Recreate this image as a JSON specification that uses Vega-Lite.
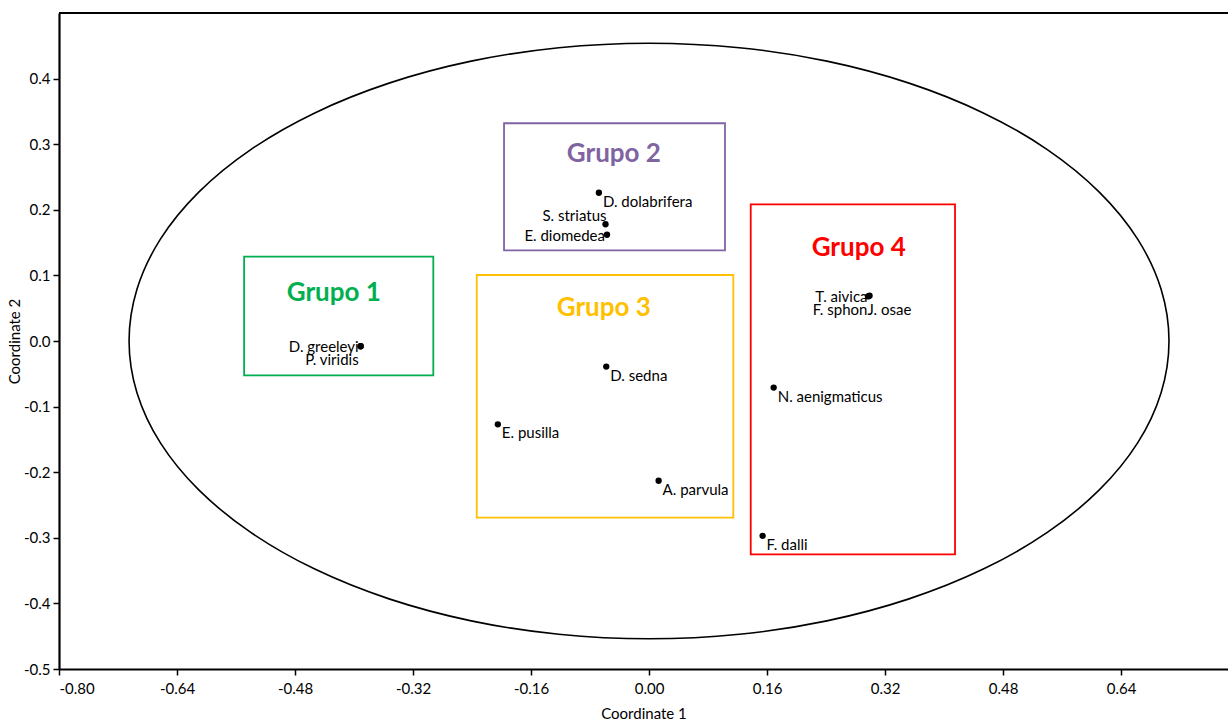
{
  "$schema": "https://vega.github.io/schema/vega-lite/v6.json",
  "width": 1169,
  "height": 656,
  "autosize": {"type": "none"},
  "padding": {"left": 59, "top": 13, "right": 0, "bottom": 52},
  "background": "white",
  "config": {
    "view": {"stroke": null},
    "font": "Lato",
    "axis": {
      "domainColor": "black", "domainWidth": 2.2, "tickColor": "black", "tickWidth": 1.5, "tickSize": 6,
      "labelColor": "black", "labelFontSize": 15, "labelFont": "Lato",
      "titleColor": "black", "titleFontSize": 15, "titleFontWeight": "normal", "titleFont": "Lato",
      "grid": false
    },
    "text": {"font": "Lato", "fontSize": 15, "color": "black", "baseline": "middle"}
  },
  "datasets": {
    "ellipse": [
      {"i": 0, "x": 0.705, "y": 0},
      {"i": 1, "x": 0.6943, "y": 0.0788},
      {"i": 2, "x": 0.6625, "y": 0.1553},
      {"i": 3, "x": 0.6105, "y": 0.227},
      {"i": 4, "x": 0.54, "y": 0.2918},
      {"i": 5, "x": 0.4532, "y": 0.3477},
      {"i": 6, "x": 0.3525, "y": 0.3931},
      {"i": 7, "x": 0.2411, "y": 0.4266},
      {"i": 8, "x": 0.1224, "y": 0.4471},
      {"i": 9, "x": 0, "y": 0.454},
      {"i": 10, "x": -0.1224, "y": 0.4471},
      {"i": 11, "x": -0.2411, "y": 0.4266},
      {"i": 12, "x": -0.3525, "y": 0.3931},
      {"i": 13, "x": -0.4532, "y": 0.3477},
      {"i": 14, "x": -0.54, "y": 0.2918},
      {"i": 15, "x": -0.6105, "y": 0.227},
      {"i": 16, "x": -0.6625, "y": 0.1553},
      {"i": 17, "x": -0.6943, "y": 0.0788},
      {"i": 18, "x": -0.705, "y": 0},
      {"i": 19, "x": -0.6943, "y": -0.0788},
      {"i": 20, "x": -0.6625, "y": -0.1553},
      {"i": 21, "x": -0.6105, "y": -0.227},
      {"i": 22, "x": -0.54, "y": -0.2918},
      {"i": 23, "x": -0.4532, "y": -0.3477},
      {"i": 24, "x": -0.3525, "y": -0.3931},
      {"i": 25, "x": -0.2411, "y": -0.4266},
      {"i": 26, "x": -0.1224, "y": -0.4471},
      {"i": 27, "x": 0, "y": -0.454},
      {"i": 28, "x": 0.1224, "y": -0.4471},
      {"i": 29, "x": 0.2411, "y": -0.4266},
      {"i": 30, "x": 0.3525, "y": -0.3931},
      {"i": 31, "x": 0.4532, "y": -0.3477},
      {"i": 32, "x": 0.54, "y": -0.2918},
      {"i": 33, "x": 0.6105, "y": -0.227},
      {"i": 34, "x": 0.6625, "y": -0.1553},
      {"i": 35, "x": 0.6943, "y": -0.0788}
    ],
    "points": [
      {"name": "D. greeleyi", "x": -0.391, "y": -0.008},
      {"name": "P. viridis", "x": -0.391, "y": -0.008},
      {"name": "D. dolabrifera", "x": -0.068, "y": 0.226},
      {"name": "S. striatus", "x": -0.059, "y": 0.178},
      {"name": "E. diomedea", "x": -0.057, "y": 0.162},
      {"name": "D. sedna", "x": -0.058, "y": -0.039},
      {"name": "E. pusilla", "x": -0.205, "y": -0.127},
      {"name": "A. parvula", "x": 0.013, "y": -0.213},
      {"name": "T. aivica", "x": 0.299, "y": 0.069},
      {"name": "F. sphonJ. osae", "x": 0.297, "y": 0.068},
      {"name": "N. aenigmaticus", "x": 0.169, "y": -0.071},
      {"name": "F. dalli", "x": 0.154, "y": -0.297}
    ],
    "boxes": [
      {"grupo": "Grupo 1", "x": -0.549, "x2": -0.2925, "y": 0.1287, "y2": -0.0523, "tx": -0.4274, "ty": 0.0738},
      {"grupo": "Grupo 2", "x": -0.1966, "x2": 0.103, "y": 0.3319, "y2": 0.1383, "tx": -0.0477, "ty": 0.2846},
      {"grupo": "Grupo 3", "x": -0.2336, "x2": 0.1143, "y": 0.1006, "y2": -0.2692, "tx": -0.0613, "ty": 0.0509},
      {"grupo": "Grupo 4", "x": 0.1379, "x2": 0.4149, "y": 0.2084, "y2": -0.3252, "tx": 0.2843, "ty": 0.1424}
    ]
  },
  "layer": [
    {
      "data": {"name": "ellipse"},
      "mark": {"type": "line", "interpolate": "cardinal-closed", "color": "black", "strokeWidth": 1.6},
      "encoding": {
        "x": {"field": "x", "type": "quantitative", "scale": {"domain": [-0.8, 0.785], "nice": false, "zero": false},
          "axis": {"values": [-0.8, -0.64, -0.48, -0.32, -0.16, 0, 0.16, 0.32, 0.48, 0.64], "format": ".2f", "labelExpr": "replace(datum.label, '\u2212', '-')", "title": "Coordinate 1", "labelPadding": 6, "titlePadding": 10}},
        "y": {"field": "y", "type": "quantitative", "scale": {"domain": [-0.5, 0.5], "nice": false, "zero": false},
          "axis": {"values": [-0.5, -0.4, -0.3, -0.2, -0.1, 0, 0.1, 0.2, 0.3, 0.4], "format": ".1f", "labelExpr": "replace(datum.label, '\u2212', '-')", "title": "Coordinate 2", "labelPadding": 3, "titlePadding": 1}},
        "order": {"field": "i", "type": "quantitative"}
      }
    },
    {
      "data": {"name": "ellipse"},
      "mark": {"type": "rule", "color": "black", "strokeWidth": 2.2},
      "encoding": {"y": {"datum": 0.5, "type": "quantitative"}}
    },
    {
      "data": {"name": "boxes"},
      "mark": {"type": "rect", "fill": null, "fillOpacity": 0, "strokeWidth": 1.8},
      "encoding": {
        "x": {"field": "x", "type": "quantitative"},
        "x2": {"field": "x2"},
        "y": {"field": "y", "type": "quantitative"},
        "y2": {"field": "y2"},
        "stroke": {"field": "grupo", "type": "nominal", "scale": {"domain": ["Grupo 1", "Grupo 2", "Grupo 3", "Grupo 4"], "range": ["#00B050", "#8064A2", "#FFC000", "#FF0000"]}, "legend": null}
      }
    },
    {
      "data": {"name": "boxes"},
      "mark": {"type": "text", "fontSize": 26, "fontWeight": "bold", "align": "center", "baseline": "middle"},
      "encoding": {
        "x": {"field": "tx", "type": "quantitative"},
        "y": {"field": "ty", "type": "quantitative"},
        "text": {"field": "grupo"},
        "color": {"field": "grupo", "type": "nominal", "scale": {"domain": ["Grupo 1", "Grupo 2", "Grupo 3", "Grupo 4"], "range": ["#00B050", "#8064A2", "#FFC000", "#FF0000"]}, "legend": null}
      }
    },
    {
      "data": {"name": "points"},
      "mark": {"type": "circle", "color": "black", "opacity": 1, "size": 40},
      "encoding": {
        "x": {"field": "x", "type": "quantitative"},
        "y": {"field": "y", "type": "quantitative"}
      }
    },
    {
      "data": {"name": "points"},
      "transform": [{"filter": {"field": "name", "oneOf": ["D. dolabrifera", "D. sedna", "E. pusilla", "A. parvula", "N. aenigmaticus", "F. dalli"]}}],
      "mark": {"type": "text", "align": "left", "dx": 4, "dy": 9},
      "encoding": {
        "x": {"field": "x", "type": "quantitative"},
        "y": {"field": "y", "type": "quantitative"},
        "text": {"field": "name"}
      }
    },
    {
      "data": {"name": "points"},
      "transform": [{"filter": {"field": "name", "oneOf": ["D. greeleyi", "E. diomedea", "T. aivica"]}}],
      "mark": {"type": "text", "align": "right", "dx": -2, "dy": 1},
      "encoding": {
        "x": {"field": "x", "type": "quantitative"},
        "y": {"field": "y", "type": "quantitative"},
        "text": {"field": "name"}
      }
    },
    {
      "data": {"name": "points"},
      "transform": [{"filter": {"field": "name", "equal": "S. striatus"}}],
      "mark": {"type": "text", "align": "right", "dx": 1, "dy": -8},
      "encoding": {
        "x": {"field": "x", "type": "quantitative"},
        "y": {"field": "y", "type": "quantitative"},
        "text": {"field": "name"}
      }
    },
    {
      "data": {"name": "points"},
      "transform": [{"filter": {"field": "name", "equal": "P. viridis"}}],
      "mark": {"type": "text", "align": "right", "dx": -2, "dy": 14},
      "encoding": {
        "x": {"field": "x", "type": "quantitative"},
        "y": {"field": "y", "type": "quantitative"},
        "text": {"field": "name"}
      }
    },
    {
      "data": {"name": "points"},
      "transform": [{"filter": {"field": "name", "equal": "F. sphonJ. osae"}}],
      "mark": {"type": "text", "align": "center", "dx": -6, "dy": 14},
      "encoding": {
        "x": {"field": "x", "type": "quantitative"},
        "y": {"field": "y", "type": "quantitative"},
        "text": {"field": "name"}
      }
    }
  ]
}
